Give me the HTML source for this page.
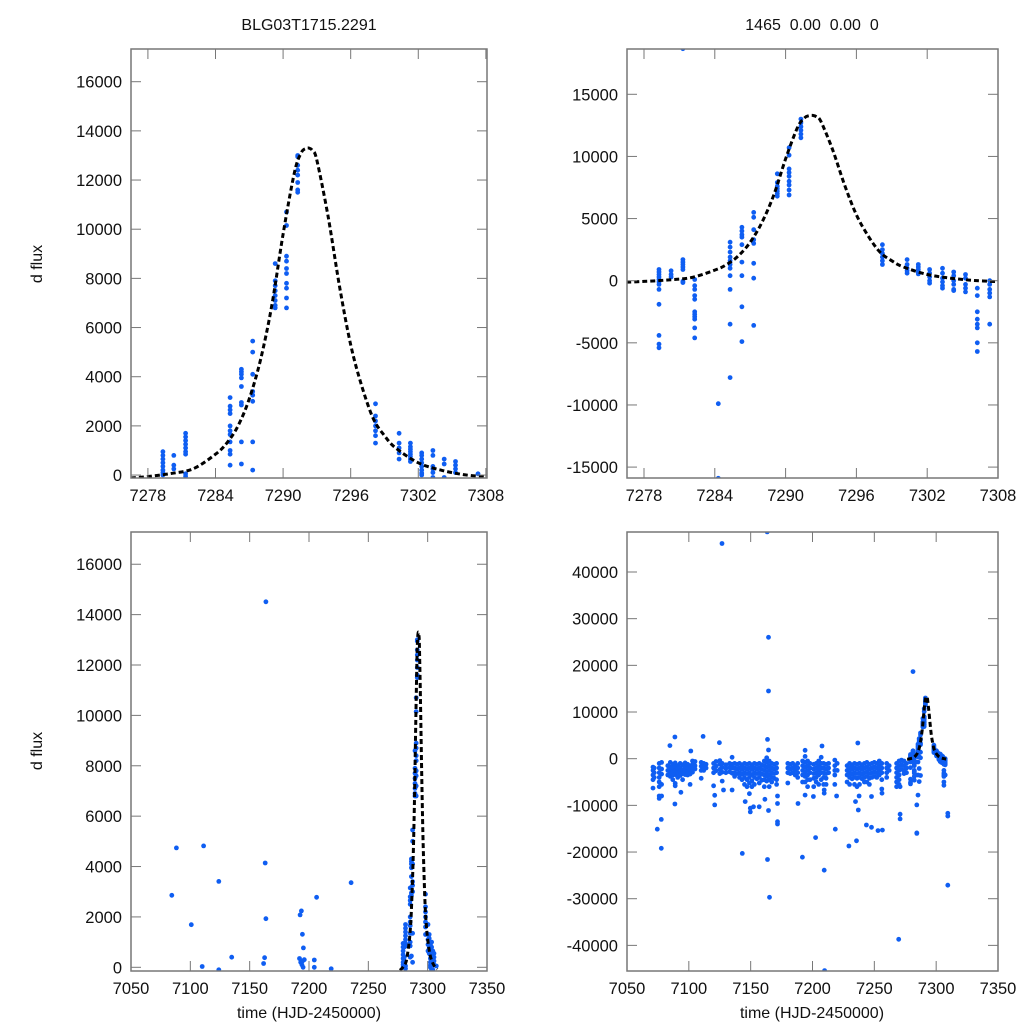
<!DOCTYPE html>
<html><head><meta charset="utf-8">
<style>
html,body{margin:0;padding:0;background:#fff;}
svg{display:block;font-family:"Liberation Sans",sans-serif;}
</style></head>
<body>
<svg id="chart" width="1024" height="1024" viewBox="0 0 1024 1024" xmlns="http://www.w3.org/2000/svg">
<rect x="0" y="0" width="1024" height="1024" fill="#fff"/>
<text x="309" y="30" font-size="16" text-anchor="middle" fill="#111">BLG03T1715.2291</text>
<text x="812" y="30" font-size="16" text-anchor="middle" fill="#111" xml:space="preserve">1465  0.00  0.00  0</text>
<text x="42" y="264" font-size="16" text-anchor="middle" fill="#111" transform="rotate(-90 42 264)">d flux</text>
<text x="42" y="751" font-size="16" text-anchor="middle" fill="#111" transform="rotate(-90 42 751)">d flux</text>
<text x="309" y="1018" font-size="16" text-anchor="middle" fill="#111">time (HJD-2450000)</text>
<text x="812" y="1018" font-size="16" text-anchor="middle" fill="#111">time (HJD-2450000)</text>
</svg>
<script>
// ---- model curve ----
const modelT = [7276.5,7278,7280,7282,7284,7285,7286,7287,7288,7289,7290,7291,7291.6,7292,7292.3,7292.6,7293,7294,7295,7296,7297,7298,7299,7300,7302,7304,7306,7308];
const modelF = [-120,-60,60,250,850,1300,2000,3100,4700,6900,9800,12300,13100,13280,13300,13200,12800,10500,7700,5300,3600,2300,1600,1100,500,200,20,-80];

// ---- reduction A (left panels), per-night ----
const aTimes = [7279.33,7280.3,7281.35,7285.3,7286.3,7287.3,7289.3,7290.3,7291.3,7298.2,7300.3,7301.3,7302.3,7303.3,7304.3,7305.3,7307.3];
const aVals = [
 [950,800,650,500,350,200,100,0],
 [800,400,250],
 [1700,1550,1400,1250,1100,950,850,50,-50],
 [3150,2800,2650,2500,2000,1800,1650,1350,1000,850,400],
 [4300,4200,4100,3950,3600,2950,2850,1350,450],
 [5450,5000,4100,3400,3250,3000,1350,200],
 [8600,7900,7700,7500,7300,7100,6900,6800],
 [10700,10150,8900,8700,8400,8200,7800,7600,7200,6800],
 [13000,12950,12600,12400,12200,11900,11600,11500],
 [2900,2400,2200,2000,1800,1600,1300],
 [1700,1300,1100,900,650],
 [1300,1150,1050,950,850,750,650,550],
 [900,800,650,500,350,200,80,0],
 [1000,800,350,250,100,-100],
 [650,450,-100],
 [550,400,250,100],
 [50]];
const aEarlyT = [7084.4,7088.3,7100.8,7110,7111.2,7124,7124,7134.9,7161.7,7162.6,7163.1,7163.7,7163.7,7192.5,7193.6,7194.4,7195.3,7192,7193,7194,7195,7196,7194.5,7204.5,7204.5,7206.4,7218.7,7235.5];
const aEarlyF = [2860,4740,1690,30,4820,3410,-100,400,150,380,4140,1930,14510,2080,2240,1310,770,350,200,100,0,300,250,290,0,2780,-60,3360];

// ---- reduction B (right panels) ----
const bTimes = [7279.27,7280.3,7281.3,7282.3,7284.3,7285.3,7286.3,7287.3,7289.3,7290.3,7291.3,7298.2,7300.3,7301.25,7302.2,7303.3,7304.25,7305.25,7306.25,7307.3];
const bVals = [
 [900,700,500,300,100,-100,-300,-700,-1900,-4400,-5100,-5400],
 [800,500,300],
 [18670,1700,1500,1300,1100,900,-50,-150],
 [100,-400,-700,-1200,-1500,-2500,-2700,-2900,-3100,-3800,-4600],
 [-9900,-16000,-15900],
 [3100,2700,2300,1900,1600,1300,1000,400,-700,-3500,-7800],
 [4300,4000,3700,3500,2900,1500,400,-2100,-4900],
 [5500,5100,4100,3300,3000,1400,200,-3600],
 [8600,7900,7600,7400,7200,7000,6800],
 [10700,10100,9000,8700,8400,8000,7700,7300,6900],
 [13000,12700,12400,12100,11800,11500],
 [2900,2500,2200,1900,1600,1300],
 [1700,1300,1000,800,600],
 [1300,1100,900,700,550],
 [900,600,300,0,-200],
 [1000,600,200,-100,-400,-600],
 [700,400,0,-300,-700,-800],
 [500,200,-300,-600,-900],
 [-600,-1200,-2500,-3100,-3500,-3800,-5000,-5700],
 [0,-300,-700,-1000,-1300,-3500]];
// season nights (values in thousands)
const sTimes = [7071,7072,7076,7078,7083,7085,7087,7089,7091,7093,7095,7097,7099,7101,7103,7105,7110,7112,7114,7120,7122,7125,7127,7130,7133,7135,7137,7139,7141,7143,7145,7147,7149,7151,7153,7155,7157,7159,7161,7163,7165,7167,7169,7171,7180,7182,7184,7186,7188,7192,7194,7196,7198,7201,7203,7205,7207,7209,7211,7213,7218,7220,7228,7230,7232,7234,7236,7238,7240,7242,7244,7246,7248,7250,7252,7254,7256,7260,7262,7268,7270,7272,7274,7276];
const sVals = [
 [-2.5,-3.5,-4.5,-6.3,-1.8],[-2,-3,-4],[-1,-2,-3,-4,-5,-6,-8,-8.5],[-0.8,-2.2,-3.3,-5.5,-8],[-1.5,-2.5,-3.5],
 [-0.8,-1.8,-2.5,-3,-3.8],[-1.2,-2,-2.8,-3.5,-4.5],[-0.9,-1.7,-2.6,-3.4,-5.3,-5.8],[-1.5,-2.2,-3,-4],[-1,-2,-2.7,-3.6],
 [-1.3,-2.4,-3.2,-4.5],[-0.9,-1.8,-2.5,-3.4],[-1.2,-2,-2.8,-3.5],[-1.5,-2.4,-3.3,-5.5],[-0.5,-1.3,-2,-2.9],
 [-0.6,-1.5,-2.2],[-0.8,-1.6,-2.5,-4.2],[-1,-1.8,-2.5],[-1.2,-2],[-1,-2,-3,-5.8],
 [-0.6,-1.6,-2.6],[-0.4,-1.2,-2.3,-3.2],[-1,-1.9,-2.9,-4.8],[-1.3,-2.1,-3],[-1,-1.9,-2.8],
 [0.3,-1.2,-2,-3.1],[-1,-2,-3,-3.8],[-1.2,-2.2,-3.2],[-1,-2,-3,-4],[-1.3,-2.3,-3.3,-4.5],
 [-1,-2,-3,-4,-5.5],[-1.2,-2.2,-3.2,-4.5,-6],[-1,-2,-3,-4,-5.2,-7.5],[-1.3,-2.3,-3.4,-4.8,-6],[-1,-2,-3,-4,-5.5],
 [-1.2,-2.2,-3.2,-4.3],[-1,-2,-3,-4,-5.2],[-1.3,-2.3,-3.3,-4.6],[-0.5,-1.5,-2.5,-3.5,-4.5,-6],[0.2,-0.8,-1.8,-2.8,-3.8,-4.8],
 [-0.5,-1.5,-2.5,-3.5,-4.5,-6],[-1,-2,-3,-4,-5],[-1.2,-2.2,-3.2,-4.2],[-1,-2,-3,-4.5,-5.5],[-1,-2,-3,-5.2],
 [-1.2,-2.2,-3.2],[-1,-2,-3],[-1.5,-2.5,-3.5],[-1,-2,-3,-4],[-0.5,-1.5,-2.5,-3.5,-5],
 [1.8,0.5,-0.8,-1.8,-2.8,-3.8,-5],[-0.5,-1.5,-2.5,-3.5,-4.5,-6],[-1,-2,-3,-4.5],[-1.2,-2.2,-3.2,-4.2,-6],[-1,-2,-3,-4,-5],
 [-0.5,-1.5,-2.5,-3.5,-5.5],[0.3,-1,-2,-3,-4.5],[-1,-2,-3,-4,-5.5],[-1.2,-2.2,-3.2,-4.2,-5.5],[-1,-2,-3],
 [-0.3,-1.5,-2.5,-3.5,-5.5],[-1,-2.5],[-1.5,-2.5,-3.5,-5],[-1,-2,-3,-4,-5.5],[-1.3,-2.3,-3.3,-4.3],
 [-1,-2,-3,-4,-5.5],[-1.2,-2.2,-3.2,-4.2,-6],[-1,-2,-3,-4,-5.5],[-1.3,-2.3,-3.3,-4.3],[-1,-2,-3,-4,-5],
 [-0.8,-1.8,-2.8,-3.8,-5],[-1.2,-2.2,-3.2,-4.2,-5.5],[-1,-2,-3,-4],[-0.8,-1.8,-2.8,-3.8],[-1,-2,-3,-4],
 [-0.5,-1.5,-2.5,-3.5],[-1,-2,-3,-4.5,-6.5],[-1,-2,-3,-4],[-1.5,-2.5],[-1,-2,-3,-4,-5,-6],
 [-0.5,-1.5,-2.5,-3.5,-4.5,-5.5],[-0.3,-1.3,-2.3],[-0.5,-1.5,-2.5,-3.2],[-1,-2,-3]];
const oTimes = [7126.8,7163.4,7164.4,7164.4,7163.6,7164.4,7163.6,7165.2,7074.5,7077.7,7077.7,7088.7,7084.7,7101.6,7111.5,7124.7,7143.2,7191.8,7202.5,7209.5,7209.8,7207.7,7218.4,7229.4,7235.6,7236.6,7243.6,7247.7,7253,7256.5,7269.7,7309.4,7309.4,7309.4,7120.9,7120.9,7088.7,7093.6,7128,7135,7145.6,7149.7,7149.7,7152.3,7156.9,7161.5,7164.4,7171.7,7171.7,7171.7,7171.7,7188.3,7194,7200.7,7209.5,7209.5,7219.5,7234.8,7237,7237.7,7247.7,7256.2,7270.8,7270.8,7270.8];
const oVals = [46100,48600,26000,14500,4140,1860,-21600,-29700,-15100,-19200,-13000,4640,2800,1640,4780,3430,-20300,-21100,-16900,-23900,-45400,2710,-15100,-18700,-17600,3360,-14200,-14700,-15400,-15300,-38700,-27100,-12300,-11700,-9900,-7850,-9700,-7200,-6700,-6700,-9200,-10600,-11400,-10300,-10300,-8700,-11100,-13500,-14000,-9600,-8000,-9600,-7800,-8100,-6700,-7400,-8000,-9200,-11000,-8000,-8100,-7400,-11900,-12900,-6000];

const xTicksZoom = [7278,7284,7290,7296,7302,7308];
const xTicksFull = [7050,7100,7150,7200,7250,7300,7350];
const yTicksA = [0,2000,4000,6000,8000,10000,12000,14000,16000];
const yTicksB = [-15000,-10000,-5000,0,5000,10000,15000];
const yTicksBFull = [-40000,-30000,-20000,-10000,0,10000,20000,30000,40000];

const NS = "http://www.w3.org/2000/svg";
const svg = document.getElementById('chart');
function mk(tag, attrs, parent){ const e=document.createElementNS(NS,tag); for(const k in attrs) e.setAttribute(k,attrs[k]); (parent||svg).appendChild(e); return e; }

const panels = [
 {name:'top-left', L:131,R:487,T:49,B:478, x0:7276.5,x1:7308.1, y0:-120,y1:17330, xt:xTicksZoom, yt:yTicksA},
 {name:'top-right', L:627,R:998,T:49,B:478, x0:7276.56,x1:7308.0, y0:-15877,y1:18645, xt:xTicksZoom, yt:yTicksB},
 {name:'bottom-left', L:131,R:487,T:532,B:971, x0:7050,x1:7350, y0:-147,y1:17280, xt:xTicksFull, yt:yTicksA},
 {name:'bottom-right', L:627,R:998,T:532,B:971, x0:7050,x1:7350, y0:-45490,y1:48570, xt:xTicksFull, yt:yTicksBFull}
];
panels.forEach(p=>{
 p.sx = v => p.L + (v-p.x0)/(p.x1-p.x0)*(p.R-p.L);
 p.sy = v => p.B - (v-p.y0)/(p.y1-p.y0)*(p.B-p.T);
 const g = mk('g',{});
 
 
 p.g = g;
 const clip = mk('clipPath',{id:'clip-'+p.name}, g);
 mk('rect',{x:p.L,y:p.T,width:p.R-p.L,height:p.B-p.T}, clip);
 p.plot = mk('g',{'clip-path':'url(#clip-'+p.name+')'}, g);
});

function ticks(p){
 const tg = mk('g',{stroke:'#777','stroke-width':1}, p.g);
 p.xt.forEach(v=>{
  const x=p.sx(v);
  if (x < p.L-1 || x > p.R+1) return;
  const t1 = mk('line',{x1:x,x2:x,y1:p.B,y2:p.B-10}, tg);
  
  
  mk('line',{x1:x,x2:x,y1:p.T,y2:p.T+10}, tg);
  const lb = mk('text',{x:x,y:p.B+23,'font-size':16.5,'text-anchor':'middle',fill:'#111'}, p.g);
  
  
  lb.textContent = v;
 });
 p.yt.forEach(v=>{
  const y=p.sy(v);
  const t1 = mk('line',{x1:p.L,x2:p.L+10,y1:y,y2:y}, tg);
  
  
  mk('line',{x1:p.R,x2:p.R-10,y1:y,y2:y}, tg);
  const lb = mk('text',{x:p.L-9,y:y+6,'font-size':16.5,'text-anchor':'end',fill:'#111'}, p.g);
  
  
  lb.textContent = v;
 });
 const fr = mk('rect',{x:p.L,y:p.T,width:p.R-p.L,height:p.B-p.T,fill:'none',stroke:'#777','stroke-width':1.5}, p.g);
 
 
}

function dot(p,t,v){
 const c = mk('circle',{cx:p.sx(t).toFixed(1),cy:p.sy(v).toFixed(1),r:2.4,fill:'#0f5ef2'}, p.plot);
 
 
}
function nights(p,times,vals,scale){
 times.forEach((t,i)=>vals[i].forEach(v=>dot(p,t,v*scale)));
}
function model(p){
 const pts = modelT.map((t,i)=>[p.sx(t),p.sy(modelF[i])]);
 let d='M'+pts[0][0].toFixed(1)+','+pts[0][1].toFixed(1);
 for(let i=0;i<pts.length-1;i++){
  const p0=pts[Math.max(0,i-1)], p1=pts[i], p2=pts[i+1], p3=pts[Math.min(pts.length-1,i+2)];
  const c1=[p1[0]+(p2[0]-p0[0])/6, p1[1]+(p2[1]-p0[1])/6];
  const c2=[p2[0]-(p3[0]-p1[0])/6, p2[1]-(p3[1]-p1[1])/6];
  d+='C'+c1[0].toFixed(1)+','+c1[1].toFixed(1)+' '+c2[0].toFixed(1)+','+c2[1].toFixed(1)+' '+p2[0].toFixed(1)+','+p2[1].toFixed(1);
 }
 const path = mk('path',{d:d,fill:'none',stroke:'#000','stroke-width':3,'stroke-dasharray':'5,3','stroke-linejoin':'round'}, p.plot);
 
 
}

const [pTL,pTR,pBL,pBR] = panels;
nights(pTL,aTimes,aVals,1); model(pTL); ticks(pTL);
nights(pTR,bTimes,bVals,1); model(pTR); ticks(pTR);
aEarlyT.forEach((t,i)=>dot(pBL,t,aEarlyF[i])); nights(pBL,aTimes,aVals,1); model(pBL); ticks(pBL);
nights(pBR,sTimes,sVals,1000); oTimes.forEach((t,i)=>dot(pBR,t,oVals[i])); nights(pBR,bTimes,bVals,1); model(pBR); ticks(pBR);
</script>
</body></html>
